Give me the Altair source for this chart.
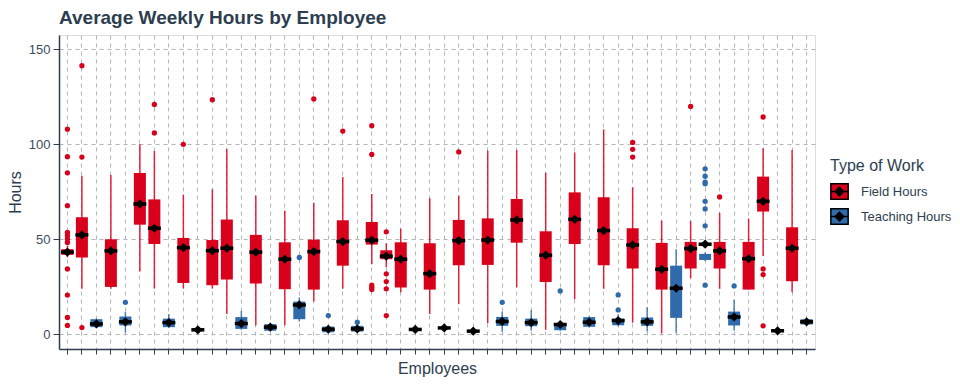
import altair as alt
import pandas as pd

# ---- data ----
employees = [f"Employee {i+1:02d}" for i in range(52)]
F, T = "Field Hours", "Teaching Hours"
work_type = [F, F, T, F, T, F, F, T, F, T,
             F, F, T, F, T, F, T, F, T, F,
             T, F, F, F, T, F, T, F, T, F,
             T, F, T, F, T, F, T, F, T, F,
             T, F, T, F, T, F, T, F, F, T,
             F, T]
whisker_low = [40.5, 24, 3.2, 24, 0.9, 33, 24, 3.2, 24, 1.8,
               24, 10.7, 2.3, 4.7, 1.5, 4.7, 6.7, 17.2, 0.5, 24,
               1.0, 36.8, 35.3, 22.1, 2.0, 10.7, 2.8, 15.8, 1.2, 5.8,
               1.3, 24.7, 1.9, 2.3, 1.8, 18.4, 3.5, 23.9, 4.2, 6.1,
               1.4, 0.5, 0.7, 29.5, 38.5, 23.9, 1.9, 23.5, 41.2, 1.4,
               22.1, 5.0]
q1 = [41.8, 40.4, 3.7, 24.9, 4.6, 57.7, 47.5, 3.7, 27.0, 2.0,
      25.8, 28.8, 2.8, 26.7, 1.8, 23.7, 7.9, 23.5, 1.0, 36.1,
      1.4, 47.2, 39.5, 24.6, 2.1, 23.5, 3.0, 36.3, 1.3, 36.5,
      4.4, 48.2, 4.2, 27.5, 2.1, 47.5, 3.9, 36.3, 4.7, 34.6,
      4.4, 23.5, 8.6, 34.6, 39.1, 34.6, 4.6, 23.5, 64.6, 1.5,
      27.9, 5.1]
q3 = [44.8, 61.6, 7.9, 50.0, 9.3, 84.9, 71.0, 8.2, 50.7, 3.0,
      49.6, 60.4, 9.0, 52.3, 5.3, 48.4, 17.2, 49.8, 4.0, 60.0,
      4.4, 59.1, 44.2, 48.4, 2.9, 47.9, 3.8, 60.2, 2.0, 61.0,
      9.1, 71.2, 8.2, 54.2, 5.8, 74.7, 9.0, 72.1, 8.2, 55.8,
      8.8, 48.1, 36.1, 48.6, 42.3, 48.6, 11.9, 48.6, 83.0, 2.2,
      56.3, 7.9]
whisker_high = [46.5, 83.5, 8.2, 83.9, 11.8, 100, 96.5, 10.7, 73.5, 3.2,
                76.3, 97.5, 12.3, 73.0, 5.8, 65.0, 19.3, 69.3, 4.5, 82.8,
                4.8, 73.9, 47.9, 55.6, 3.1, 71.6, 4.0, 73.0, 2.2, 96.7,
                12.0, 97.0, 12.6, 85.0, 6.3, 95.8, 9.5, 107.9, 10.5, 77.4,
                14.2, 59.8, 44.7, 59.6, 43.0, 63.9, 18.2, 60.9, 97.9, 2.4,
                97.0, 8.2]
mean_hours = [43.2, 52.3, 5.4, 43.9, 6.5, 68.6, 55.8, 6.1, 45.6, 2.3,
              44.0, 45.3, 5.6, 43.2, 3.7, 39.5, 15.4, 43.5, 2.6, 48.8,
              2.8, 49.5, 41.1, 39.5, 2.5, 31.9, 3.3, 49.3, 1.6, 49.6,
              6.7, 60.2, 6.1, 41.6, 5.1, 60.5, 6.3, 54.6, 7.2, 47.0,
              6.5, 34.2, 24.2, 45.1, 47.4, 43.9, 9.1, 39.8, 70.0, 1.8,
              45.3, 6.5]
outliers = [
    [108, 93.5, 85, 67.7, 53.6, 51.9, 50.1, 48.3, 34.4, 20.6, 8.8, 4.6],
    [141.4, 93.3, 3.5], [], [], [16.8], [], [121, 106], [], [100], [],
    [123.5], [], [], [], [], [], [40.4], [123.9], [9.8], [107],
    [6.3], [109.8, 94.7, 25.8, 24.6, 23.5], [53.9, 31.8, 27.7, 23.9, 9.8], [], [], [], [], [96], [], [],
    [16.8], [], [], [], [22.8], [], [], [], [12.8, 20.7], [101, 97.4, 93.3],
    [], [], [], [120], [87.1, 83.2, 80.1, 79.2, 70.0, 66.0, 57.1, 25.8], [72.3], [25.4], [], [114.4, 34.4, 31.4, 4.4], [],
    [], [],
]
type_domain = [F, T]
type_colors = ["#d9001b", "#2f6bab"]

# ---- tables ----
stats = pd.DataFrame({
    "employee": employees, "type": work_type, "low": whisker_low,
    "q1": q1, "q3": q3, "high": whisker_high, "mean": mean_hours,
})
out_rows = [
    {"employee": employees[i], "type": work_type[i], "hours": v}
    for i, vals in enumerate(outliers) for v in vals
]
out_df = pd.DataFrame(out_rows)

TXT = "#2c3e50"
GRID = "#b0b5b8"
FONT = "Liberation Sans"

x_enc = alt.X(
    "employee:N", sort=employees,
    scale=alt.Scale(paddingInner=0, paddingOuter=0.08),
    axis=alt.Axis(title="Employees", labels=False, ticks=True, tickSize=5,
                  tickColor=TXT, domainColor=TXT, domainWidth=1.5,
                  grid=True, gridDash=[4, 4], gridColor=GRID, gridWidth=1,
                  bandPosition=0.5, titlePadding=6, titleFontSize=16,
                  titleFontWeight="normal", titleColor=TXT, titleFont=FONT),
)
y_scale = alt.Scale(domain=[-7.8, 157.6], nice=False, zero=False)
y_axis = alt.Axis(title="Hours", values=[0, 50, 100, 150], tickSize=6,
                  tickColor=TXT, domainColor=TXT, domainWidth=1.5,
                  labelPadding=3, labelFontSize=13, labelColor="#3d4b5c",
                  labelFont=FONT, grid=True, gridDash=[4, 4], gridColor=GRID,
                  gridWidth=1, titlePadding=5, titleFontSize=16,
                  titleFontWeight="normal", titleColor=TXT, titleFont=FONT)

# legend icon: box outline, mean bar and a (stroke-filled) diamond
legend_path = ("M-1,-0.9H1V0.9H-1Z M-1,0H1 "
               "M0,-0.5L0.5,0L0,0.5L-0.5,0Z M0,-0.36L0.36,0L0,0.36L-0.36,0Z "
               "M0,-0.22L0.22,0L0,0.22L-0.22,0Z M0,-0.08L0.08,0L0,0.08L-0.08,0Z")
color_scale = alt.Scale(domain=type_domain, range=type_colors)
legend_def = alt.Legend(title="Type of Work", orient="none", legendX=771,
                        legendY=123, titleFontSize=16, titleFontWeight="normal",
                        titleColor=TXT, titleFont=FONT, labelFontSize=13,
                        labelColor=TXT, labelFont=FONT, symbolType=legend_path,
                        symbolSize=300, symbolStrokeColor="black",
                        symbolStrokeWidth=1.5, symbolOpacity=1, rowPadding=2,
                        titlePadding=8, labelOffset=12)
color_enc = alt.Color("type:N", scale=color_scale, legend=legend_def)

whisker_layers = [
    alt.Chart(stats).transform_filter(alt.datum.type == t)
    .mark_rule(strokeWidth=1.5, opacity=0.85, color=c).encode(
        x=x_enc, y=alt.Y("low:Q", scale=y_scale, axis=y_axis), y2="high:Q")
    for t, c in zip(type_domain, type_colors)
]
boxes = alt.Chart(stats).mark_bar(size=12, opacity=1).encode(
    x=x_enc, y=alt.Y("q1:Q", scale=y_scale, axis=y_axis), y2="q3:Q",
    color=color_enc)
points = alt.Chart(out_df).mark_circle(size=28, opacity=1).encode(
    x=x_enc, y=alt.Y("hours:Q", scale=y_scale, axis=y_axis),
    color=color_enc)
mean_line = alt.Chart(stats).mark_tick(color="black", thickness=3.5, size=13,
                                       opacity=1).encode(
    x=x_enc, y=alt.Y("mean:Q", scale=y_scale, axis=y_axis))
mean_pt = alt.Chart(stats).mark_point(shape="diamond", filled=True,
                                      color="black", size=85, opacity=1).encode(
    x=x_enc, y=alt.Y("mean:Q", scale=y_scale, axis=y_axis))

chart = alt.layer(*whisker_layers, boxes, points, mean_line,
                  mean_pt).properties(
    width=756, height=314,
    title=alt.TitleParams("Average Weekly Hours by Employee", anchor="start",
                          frame="group", fontSize=19, fontWeight="bold",
                          color=TXT, font=FONT, offset=7),
    autosize=alt.AutoSizeParams(type="none"),
    padding={"left": 51, "top": 27, "right": 137, "bottom": 32},
).configure_view(fill="#e6ebeb", stroke=None).configure(background="white")

chart.save("out.html", embed_options={"renderer": "svg", "actions": False})
